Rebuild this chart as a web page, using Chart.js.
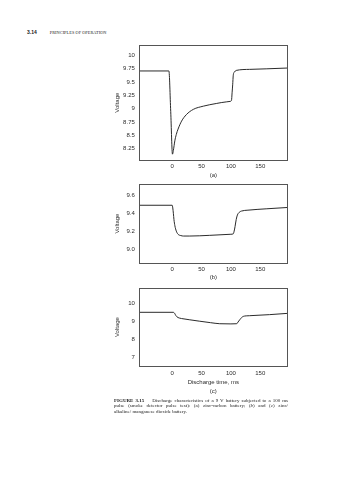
<!DOCTYPE html>
<html>
<head>
<meta charset="utf-8">
<script src="https://cdn.jsdelivr.net/npm/chart.js@4.4.1/dist/chart.umd.min.js"></script>
<style>
  body { margin: 0; width: 358px; height: 480px; background: #fff; position: relative; overflow: hidden;
         font-family: "Liberation Sans", Arial, sans-serif; color: #222; }
  canvas { position: absolute; left: 90px; }
  #head { position: absolute; left: 27px; top: 25.5px; line-height: 6px; white-space: nowrap; }
  #head .num { font-weight: bold; font-size: 5px; }
  #head .ttl { font-family: "Liberation Serif", serif; font-size: 4.3px; margin-left: 13px; letter-spacing: 0.05px; }
  #cap { position: absolute; left: 114px; top: 398px; width: 174px; font-family: "Liberation Serif", serif;
         font-size: 5px; line-height: 5.3px; }
  #cap div { white-space: nowrap; }
  #cap .j { text-align: justify; text-align-last: justify; }
</style>
</head>
<body>
<div id="head"><span class="num">3.14</span><span class="ttl">PRINCIPLES OF OPERATION</span></div>
<canvas id="chart-a"></canvas>
<canvas id="chart-b"></canvas>
<canvas id="chart-c"></canvas>
<div id="cap">
  <div class="j"><b>FIGURE 3.15</b>&nbsp;&nbsp;&nbsp; Discharge characteristics of a 9 V battery subjected to a 100 ms</div>
  <div class="j">pulse (smoke detector pulse test): (a) zinc-carbon battery; (<i>b</i>) and (<i>c</i>) zinc/</div>
  <div>alkaline/ manganese dioxide battery.</div>
</div>
<script>
/* Three stacked voltage-vs-time panels. */

const timeTicks = [0, 50, 100, 150];

// (a) zinc-carbon
const timesA = [-56, -5.6, -2.5, 0.5, 2, 4.5, 7, 10, 16, 24, 36, 53, 75, 92, 99, 101, 102, 103, 104, 106, 109, 132, 160, 196];
const voltsA = [9.71, 9.71, 8.95, 8.15, 8.22, 8.40, 8.52, 8.62, 8.77, 8.89, 8.99, 9.05, 9.10, 9.13, 9.14, 9.16, 9.30, 9.45, 9.63, 9.69, 9.72, 9.74, 9.75, 9.765];
const voltTicksA = [8.25, 8.5, 8.75, 9, 9.25, 9.5, 9.75, 10];
const voltLabelsA = ['8.25', '8.5', '8.75', '9', '9.25', '9.5', '9.75', '10'];

// (b) zinc/alkaline/MnO2
const timesB = [-56, 0, 1, 2, 3, 4.6, 7, 10, 15, 19, 30, 64, 100, 104, 105.5, 107, 109, 111, 114, 118, 129, 160, 196];
const voltsB = [9.49, 9.49, 9.46, 9.40, 9.33, 9.26, 9.20, 9.165, 9.15, 9.145, 9.145, 9.153, 9.165, 9.17, 9.20, 9.25, 9.33, 9.38, 9.41, 9.425, 9.435, 9.45, 9.465];
const voltTicksB = [9.0, 9.2, 9.4, 9.6];
const voltLabelsB = ['9.0', '9.2', '9.4', '9.6'];

// (c) zinc/alkaline/MnO2
const timesC = [-56, 2, 4, 6, 8, 12, 16, 30, 47, 65, 81, 100, 110, 112, 115, 118, 121, 126, 132, 166, 196];
const voltsC = [9.50, 9.50, 9.45, 9.33, 9.25, 9.18, 9.15, 9.08, 9.00, 8.92, 8.86, 8.85, 8.86, 8.95, 9.08, 9.20, 9.27, 9.30, 9.31, 9.37, 9.44];
const voltTicksC = [7, 8, 9, 10];
const voltLabelsC = ['7', '8', '9', '10'];

const INK = '#2b2b2b';
const FONT = { family: '"Liberation Sans", Arial, sans-serif', size: 6 };
const TITLE_LH = 1.42;

// frame the plot area on all four sides
const boxPlugin = {
  id: 'box',
  afterDraw(chart) {
    const { ctx, chartArea: a } = chart;
    ctx.save();
    ctx.strokeStyle = '#555';
    ctx.lineWidth = 1;
    ctx.strokeRect(Math.round(a.left) + 0.5, Math.round(a.top) + 0.5,
      Math.round(a.right - a.left), Math.round(a.bottom - a.top));
    ctx.restore();
  },
};

// panel geometry in page pixels: plot top/bottom, tick label centre, last title line centre
function panel(id, times, volts, yTicks, yLabels, yMin, yMax, geo, title) {
  const canvas = document.getElementById(id);
  const left = 90, plotLeft = 139.3, plotRight = 287.3;
  const top = geo.top - 6;
  const xBottom = geo.titleY + FONT.size * TITLE_LH / 2;
  const bottom = xBottom + 4;
  canvas.width = 210;
  canvas.height = Math.round(bottom - top);
  canvas.style.top = top + 'px';
  const xHeight = xBottom - geo.bottom;
  const padBottom = canvas.height - (xBottom - top);
  const noGrid = { display: false, drawTicks: false, tickLength: 0 };

  new Chart(canvas, {
    type: 'line',
    data: {
      datasets: [{
        data: times.map((t, i) => ({ x: t, y: volts[i] })),
        borderColor: INK,
        borderWidth: 1,
        pointRadius: 0,
        cubicInterpolationMode: 'monotone',
      }],
    },
    options: {
      responsive: false,
      animation: false,
      events: [],
      layout: { padding: { left: 0, top: 6, right: left + 210 - plotRight, bottom: padBottom } },
      plugins: { legend: { display: false }, tooltip: { enabled: false } },
      scales: {
        x: {
          type: 'linear', min: -56, max: 196,
          afterBuildTicks: (s) => { s.ticks = timeTicks.map((v) => ({ value: v })); },
          afterFit: (s) => { s.height = xHeight; },
          grid: noGrid, border: { display: false },
          ticks: { font: FONT, color: INK, padding: geo.tickY - geo.bottom - 3.6, maxRotation: 0 },
          title: { display: true, text: title, font: { ...FONT, lineHeight: TITLE_LH }, color: INK, padding: 0 },
        },
        y: {
          min: yMin, max: yMax,
          afterBuildTicks: (s) => { s.ticks = yTicks.map((v) => ({ value: v })); },
          afterFit: (s) => { s.width = plotLeft - left; },
          grid: noGrid, border: { display: false },
          ticks: { font: FONT, color: INK, padding: 4.5, callback: (v, i) => yLabels[i] },
          title: { display: true, text: 'Voltage', font: FONT, color: INK, padding: { top: 117.3 - left - 3.6 } },
        },
      },
    },
    plugins: [boxPlugin],
  });
}

panel('chart-a', timesA, voltsA, voltTicksA, voltLabelsA, 8.035, 10.195,
  { top: 42.7, bottom: 160, tickY: 166, titleY: 175.5 }, '(a)');
panel('chart-b', timesB, voltsB, voltTicksB, voltLabelsB, 8.843, 9.727,
  { top: 181.7, bottom: 262.7, tickY: 269.3, titleY: 277 }, '(b)');
panel('chart-c', timesC, voltsC, voltTicksC, voltLabelsC, 6.49, 10.857,
  { top: 286, bottom: 366, tickY: 373, titleY: 391 }, ['Discharge time, ms', '(c)']);
</script>
</body>
</html>
